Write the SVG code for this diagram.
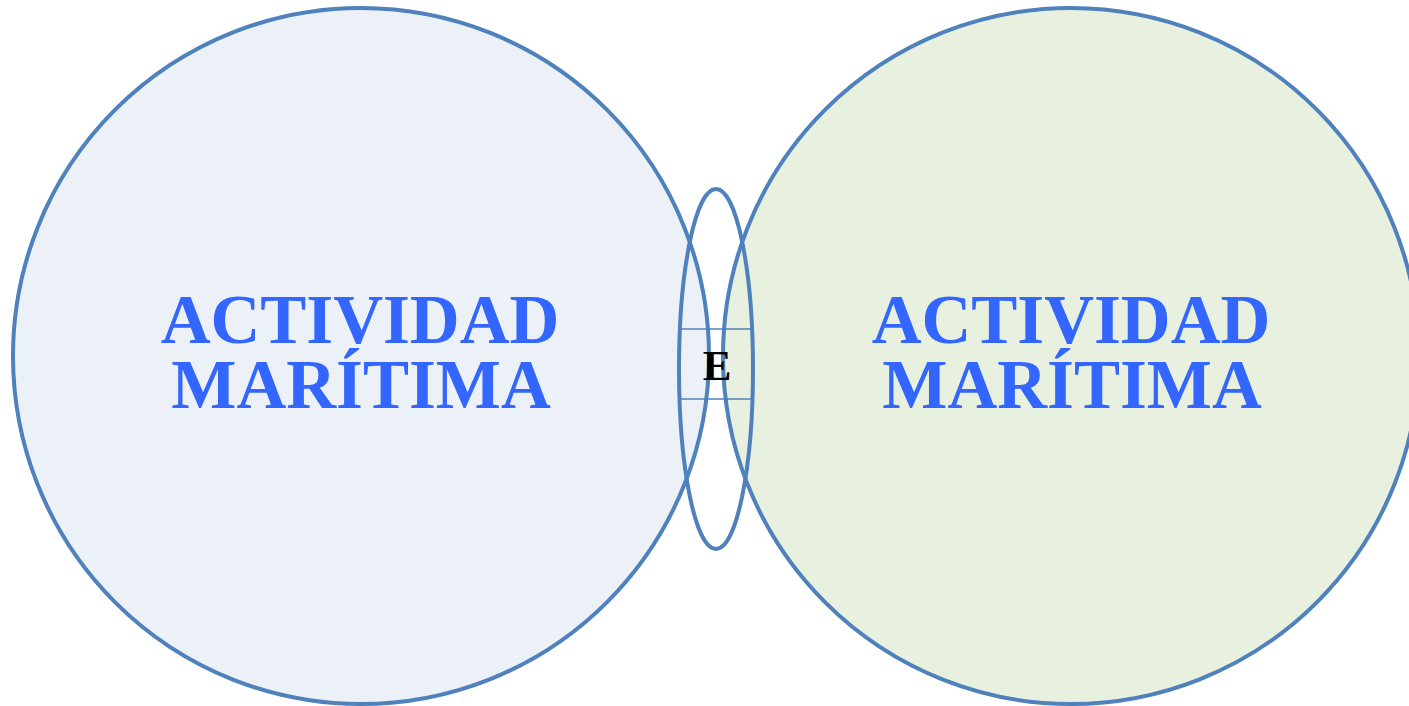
<svg xmlns="http://www.w3.org/2000/svg" width="1409" height="706" viewBox="0 0 1409 706">
<style>
.ring{stroke:#4F81BD;stroke-width:4}
.lbl{font-family:"Liberation Serif","Times New Roman",serif;font-weight:bold;font-size:69px;fill:#3366FF;text-anchor:middle}
.e{font-family:"Liberation Serif","Times New Roman",serif;font-weight:bold;font-size:43px;fill:#000;text-anchor:middle}
.thin{stroke:#4F81BD;stroke-width:1.5}
</style>
<rect width="1409" height="706" fill="#FFFFFF"/>
<g id="left-circle">
<circle class="ring" cx="361" cy="356" r="348" fill="#EBF1F6"/>
<text class="lbl" x="360" y="343">ACTIVIDAD</text>
<text class="lbl" x="361" y="408">MARÍTIMA</text>
</g>
<g id="right-circle">
<circle class="ring" cx="1071" cy="356" r="348" fill="#E8F0E0"/>
<text class="lbl" x="1071" y="343">ACTIVIDAD</text>
<text class="lbl" x="1072" y="408">MARÍTIMA</text>
</g>
<g id="intersection">
<ellipse class="ring" cx="716" cy="369" rx="37" ry="180" fill="none"/>
<line class="thin" x1="680" y1="329" x2="752" y2="329"/>
<line class="thin" x1="680" y1="399" x2="752" y2="399"/>
<text class="e" x="717" y="380">E</text>
</g>
</svg>
